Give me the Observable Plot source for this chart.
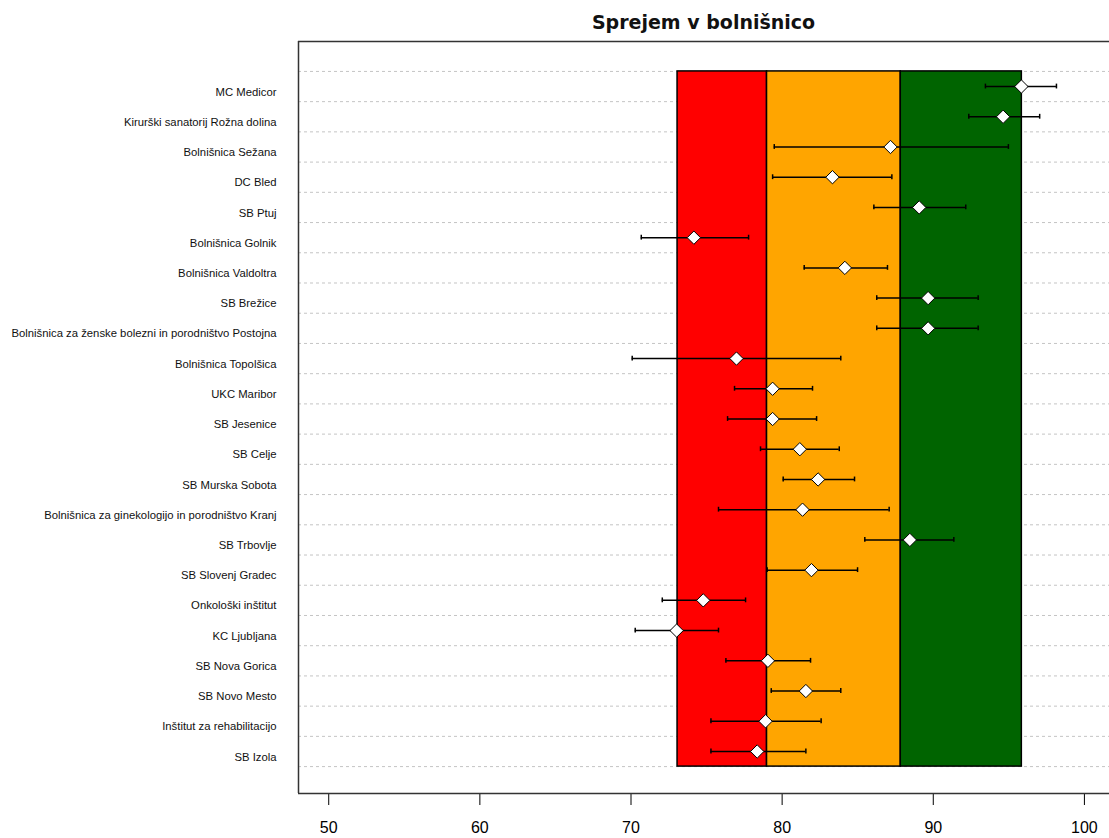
<!DOCTYPE html>
<html>
<head>
<meta charset="utf-8">
<script src="https://cdn.jsdelivr.net/npm/d3@7"></script>
<script src="https://cdn.jsdelivr.net/npm/@observablehq/plot@0.6"></script>
<style>
  body { margin: 0; background: #fff; font-family: "Liberation Sans", Arial, sans-serif; }
  #title { height: 34px; line-height: 44px; padding-left: 298px; text-align: center;
           font-family: "DejaVu Sans", sans-serif; font-weight: bold; font-size: 19px; color: #111; }
</style>
</head>
<body>
<div id="title">Sprejem v bolnišnico</div>
<div id="chart"></div>
<script>
const hospitals = [
  "MC Medicor",
  "Kirurški sanatorij Rožna dolina",
  "Bolnišnica Sežana",
  "DC Bled",
  "SB Ptuj",
  "Bolnišnica Golnik",
  "Bolnišnica Valdoltra",
  "SB Brežice",
  "Bolnišnica za ženske bolezni in porodništvo Postojna",
  "Bolnišnica Topolšica",
  "UKC Maribor",
  "SB Jesenice",
  "SB Celje",
  "SB Murska Sobota",
  "Bolnišnica za ginekologijo in porodništvo Kranj",
  "SB Trbovlje",
  "SB Slovenj Gradec",
  "Onkološki inštitut",
  "KC Ljubljana",
  "SB Nova Gorica",
  "SB Novo Mesto",
  "Inštitut za rehabilitacijo",
  "SB Izola"
];
const means = [95.83, 94.62, 87.17, 83.33, 89.07, 74.16, 84.15, 89.66, 89.66, 76.98, 79.37, 79.37, 81.17, 82.38, 81.35, 88.45, 81.94, 74.78, 73.02, 79.06, 81.57, 78.90, 78.35];
const lower = [93.45, 92.35, 79.48, 79.37, 86.07, 70.68, 81.46, 86.26, 86.26, 70.08, 76.85, 76.39, 78.57, 80.07, 75.79, 85.47, 79.01, 72.07, 70.28, 76.28, 79.28, 75.29, 75.29];
const upper = [98.15, 97.04, 94.97, 87.26, 92.15, 77.78, 86.97, 92.97, 92.97, 83.88, 82.01, 82.28, 83.78, 84.79, 87.08, 91.36, 84.99, 77.58, 75.79, 81.88, 83.88, 82.58, 81.57];

// colour bands (thresholds)
const bandStarts = [73.08, 79.00, 87.85];
const bandEnds   = [79.00, 87.85, 95.86];
const bandColors = ["#FF0000", "#FFA500", "#006400"];

const xTicks = [50, 60, 70, 80, 90, 100];
const xDomain = [48, 101.66];

const rows = hospitals.map((name, i) => ({name, i, mean: means[i], lo: lower[i], hi: upper[i]}));
const bands = bandStarts.map((s, k) => ({x1: s, x2: bandEnds[k], fill: bandColors[k]}));
const n = hospitals.length;
const gridLines = d3.range(n + 1).map(k => k - 0.5);
const yTop = -1.49, yBottom = 23.39;

const chart = Plot.plot({
  width: 1109,
  height: 804,
  marginLeft: 298,
  marginRight: 0,
  marginTop: 7,
  marginBottom: 45,
  style: {fontFamily: "Liberation Sans, Arial, sans-serif", background: "#fff"},
  x: {domain: xDomain, ticks: xTicks, tickSize: 12, tickPadding: 16, tickFormat: d => d, label: null},
  y: {domain: [yTop, yBottom], reverse: true, axis: null},
  marks: [
    // dashed horizontal gridlines
    Plot.ruleY(gridLines, {y: d => d, x1: xDomain[0], x2: xDomain[1], stroke: "#c4c4c4", strokeDasharray: "3,3", strokeWidth: 1}),
    // colour bands
    Plot.rectX(bands, {x1: "x1", x2: "x2", y1: -0.5, y2: n - 0.5, fill: "fill", stroke: "#000", strokeWidth: 1.5}),
    // error bars
    Plot.ruleY(rows, {y: "i", x1: "lo", x2: "hi", stroke: "#000", strokeWidth: 1.5}),
    Plot.ruleX(rows, {x: "lo", y1: d => d.i - 0.08, y2: d => d.i + 0.08, stroke: "#000", strokeWidth: 1.5}),
    Plot.ruleX(rows, {x: "hi", y1: d => d.i - 0.08, y2: d => d.i + 0.08, stroke: "#000", strokeWidth: 1.5}),
    // points
    Plot.dot(rows, {x: "mean", y: "i", symbol: "diamond2", r: 6, fill: "#fff", stroke: "#000", strokeWidth: 1}),
    // labels
    Plot.text(rows, {x: xDomain[0], y: d => d.i + 0.18, text: "name", textAnchor: "end", dx: -22, fontSize: 11.3, fill: "#111"}),
    // frame
    Plot.ruleX([xDomain[0]], {y1: yTop, y2: yBottom, stroke: "#333", strokeWidth: 1.5}),
    Plot.ruleY([yTop, yBottom], {x1: xDomain[0], x2: xDomain[1], stroke: "#333", strokeWidth: 1.5})
  ]
});
chart.querySelectorAll('g[aria-label="x-axis tick label"]').forEach(el => {
  el.setAttribute("font-size", "16");
  el.style.fontSize = "16px";
});
document.getElementById("chart").appendChild(chart);
</script>
</body>
</html>
